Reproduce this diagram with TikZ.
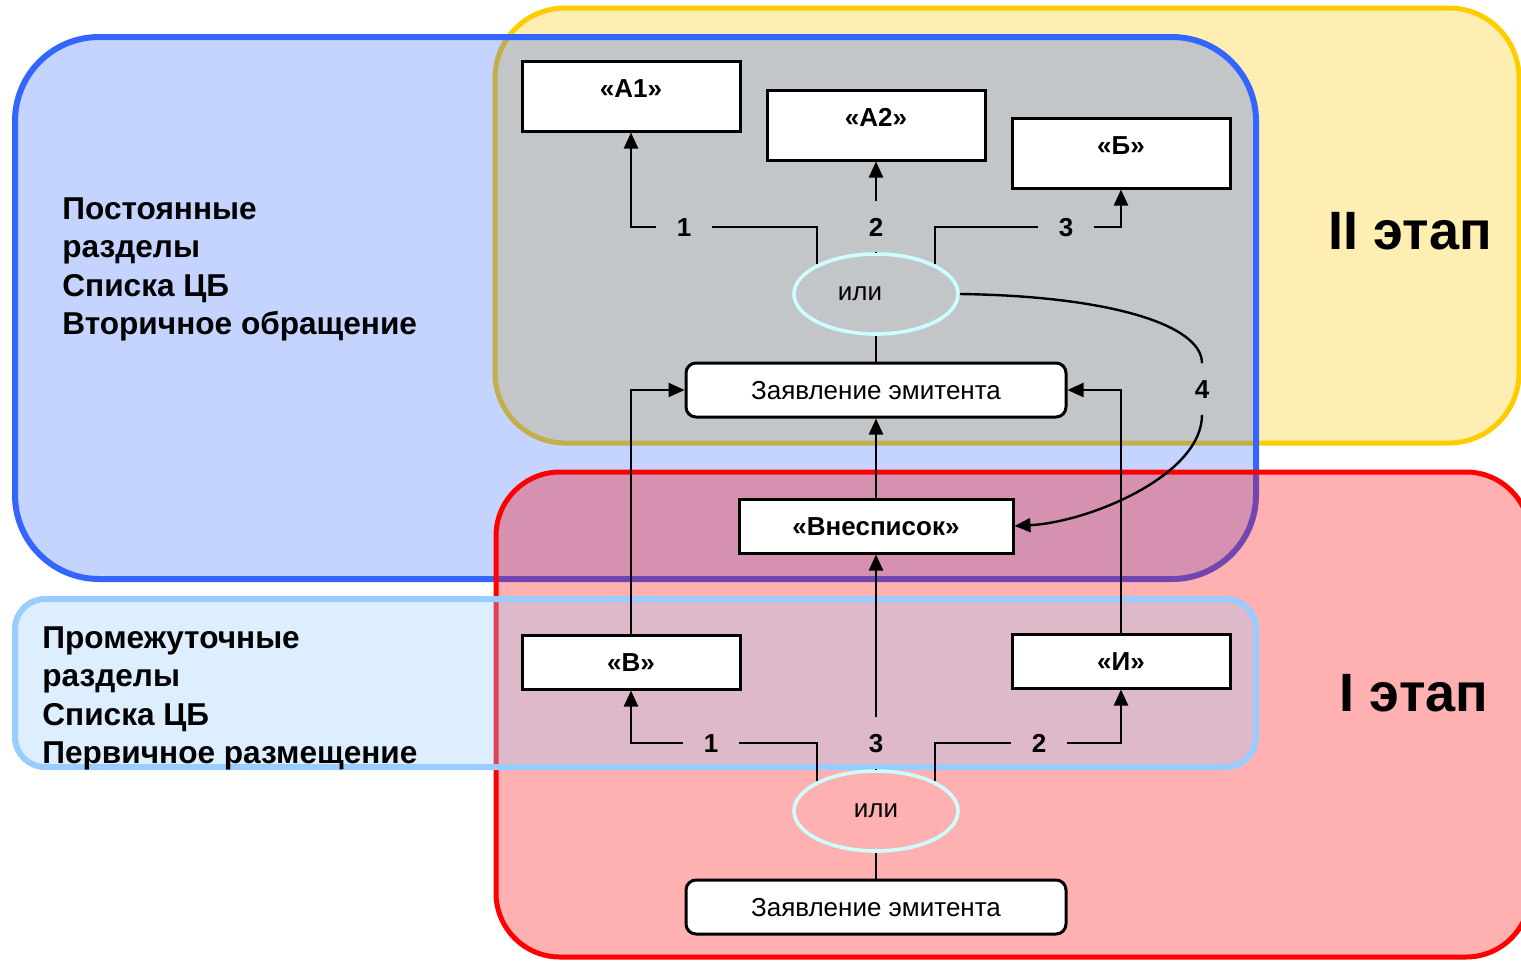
\documentclass[tikz,border=0pt]{standalone}
\usepackage{fontspec}
\setmainfont{Liberation Sans}
\usetikzlibrary{arrows.meta,shapes.geometric}

\definecolor{yellowline}{HTML}{FFCC00}
\definecolor{yellowfill}{HTML}{FFEEB2}
\definecolor{blueline}{HTML}{3366FF}
\definecolor{lightline}{HTML}{99CCFF}
\definecolor{orline}{HTML}{CCFFFF}

\begin{document}
\begin{tikzpicture}[x=0.5pt, y=-0.5pt,
    con/.style={line width=1.2pt},
    arr/.style={con, -{Triangle[length=8pt,width=7pt]}},
    box_node/.style={draw, line width=1.5pt, fill=white, minimum width=109pt, minimum height=27pt, inner sep=0pt, font=\fontsize{13}{15}\selectfont\bfseries, text height=9.4pt, text depth=0pt},
    box_top/.style={box_node, minimum height=35pt, text depth=8pt},
    zay_node/.style={draw, line width=1.5pt, fill=white, rounded corners=5pt, minimum width=190pt, minimum height=27pt, inner sep=0pt, font=\fontsize{13}{15}\selectfont, text height=9.4pt, text depth=0pt},
    or_node/.style={ellipse, draw=orline, line width=1.8pt, minimum width=82pt, minimum height=40pt, inner sep=0pt, font=\fontsize{13}{15}\selectfont},
    num_node/.style={inner xsep=10pt, inner ysep=8pt, font=\fontsize{13}{15}\selectfont\bfseries, text height=9.4pt, text depth=0pt},
    side_text/.style={align=left, inner sep=0pt, anchor=north west, font=\fontsize{15.8}{19.25}\selectfont\bfseries},
    stage_text/.style={font=\fontsize{27}{30}\selectfont\bfseries}]
    \useasboundingbox (0,0) rectangle (1521,960);
    \clip (0,0) rectangle (1521,960);
    % stages and list sections
    \draw[yellowline, line width=2.5pt, fill=yellowfill, rounded corners=35pt] (495,8) rectangle (1519,443);
    \draw[blueline, line width=3pt, fill=blueline, fill opacity=0.29, rounded corners=42pt] (15,37) rectangle (1256,579);
    \draw[red, line width=2.5pt, fill=red, fill opacity=0.31, rounded corners=32pt] (496,472) rectangle (1530,957);
    \draw[lightline, line width=3pt, fill=lightline, fill opacity=0.33, rounded corners=15pt] (15,599) rectangle (1256,767);

    \node[side_text] (post_txt) at (62,197) {Постоянные\\разделы\\Списка ЦБ\\Вторичное обращение};
    \node[side_text] (prom_txt) at (42,626) {Промежуточные\\разделы\\Списка ЦБ\\Первичное размещение};
    \node[stage_text] (stage2) at (1410,231) {II этап};
    \node[stage_text] (stage1) at (1414,693) {I этап};

    \node[box_top] (a1) at (631,96) {«А1»};
    \node[box_top] (a2) at (876,125) {«А2»};
    \node[box_top] (b) at (1121,153) {«Б»};
    \node[or_node] (or_top) at (876,294) {\hspace*{-16pt}или};
    \node[zay_node] (zay_top) at (876,390) {Заявление эмитента};
    \node[box_node, minimum width=137pt] (vne) at (876,526) {«Внесписок»};
    \node[box_node] (v) at (631,662) {«В»};
    \node[box_node] (i) at (1121,661) {«И»};
    \node[or_node] (or_bot) at (876,811) {или};
    \node[zay_node] (zay_bot) at (876,907) {Заявление эмитента};

    \node[num_node] (n1) at (684,227) {1};
    \node[num_node] (n2) at (876,227) {2};
    \node[num_node] (n3) at (1066,227) {3};
    \node[num_node] (n4) at (1202,389) {4};
    \node[num_node] (m1) at (711,743) {1};
    \node[num_node] (m3) at (876,743) {3};
    \node[num_node] (m2) at (1039,743) {2};

    % II stage
    \draw[con] (or_top.north west) |- (n1);
    \draw[arr] (n1) -| (a1);
    \draw[con] (or_top.north) -- (n2);
    \draw[arr] (n2) -- (a2);
    \draw[con] (or_top.north east) |- (n3);
    \draw[arr] (n3) -| (b);
    \draw[con] (or_top.east) .. controls (1110,296) and (1202,325) .. (n4.north);
    \draw[arr] (n4.south) .. controls (1202,475) and (1090,522) .. (vne.east);
    \draw[con] (zay_top) -- (or_top);
    \draw[arr] (vne) -- (zay_top);
    \draw[arr] (v) |- (zay_top);
    \draw[arr] (i) |- (zay_top);
    % I stage
    \draw[con] (or_bot.north west) |- (m1);
    \draw[arr] (m1) -| (v);
    \draw[con] (or_bot.north) -- (m3);
    \draw[arr] (m3) -- (vne);
    \draw[con] (or_bot.north east) |- (m2);
    \draw[arr] (m2) -| (i);
    \draw[con] (zay_bot) -- (or_bot);
\end{tikzpicture}
\end{document}
